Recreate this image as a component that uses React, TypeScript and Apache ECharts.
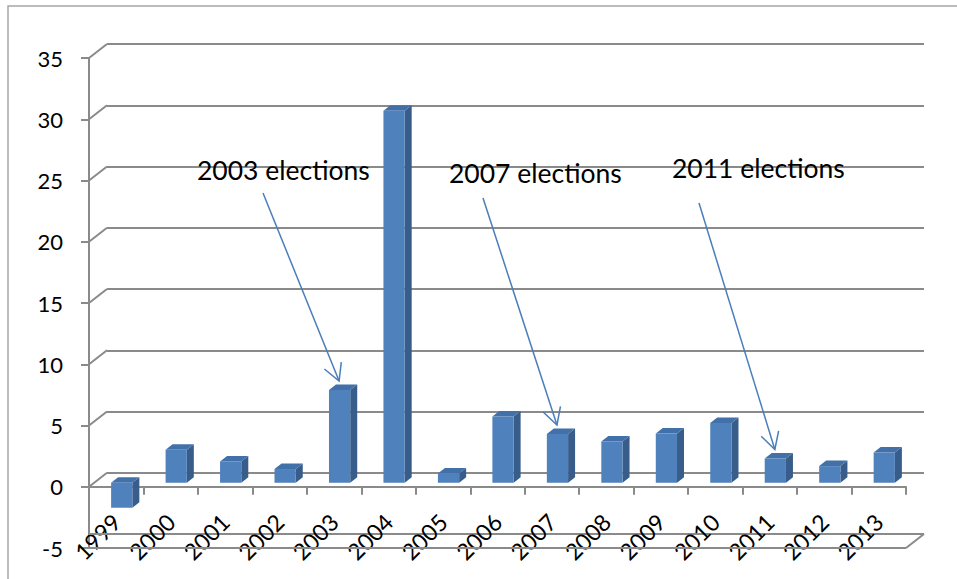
import React, { useEffect, useRef } from "react";
import * as echarts from "echarts";

const years = ["1999", "2000", "2001", "2002", "2003", "2004", "2005", "2006", "2007", "2008", "2009", "2010", "2011", "2012", "2013"];
const growth = [-2.04, 2.69, 1.74, 1.12, 7.57, 30.37, 0.76, 5.41, 3.98, 3.37, 4.02, 4.87, 1.98, 1.36, 2.47];
const yTicks = [-5, 0, 5, 10, 15, 20, 25, 30, 35];
const annotationLabels = ["2003 elections", "2007 elections", "2011 elections"];
const annotationYears = ["2003", "2007", "2011"];

const W = 957;
const H = 579;
const FONT = "Lato, 'Noto Sans', sans-serif";
const GRID_COLOR = "#8a8a8a";
const DX = 18; // depth offset of the back wall
const DY = 14;
const BAR_DX = 5.5; // bar position inside depth
const BAR_DY = 4;
const BAR_DEPTH_X = 7;
const BAR_DEPTH_Y = 5.5;

// annotation layout (text position and arrow start)
const annLayout = [
  { tx: 197, ty: 170, sx: 263, sy: 193 },
  { tx: 449, ty: 173, sx: 483, sy: 198 },
  { tx: 672, ty: 168, sx: 699, sy: 203 },
];

export default function App() {
  const ref = useRef<HTMLDivElement>(null);

  useEffect(() => {
    if (!ref.current) return;
    const chart = echarts.init(ref.current, undefined, { renderer: "svg" });
    const front: any = { left: 89, right: W - 906, top: 58, bottom: H - 548, containLabel: false, outerBoundsMode: "none" };
    const back: any = {
      left: front.left + DX,
      right: front.right - DX,
      top: front.top - DY,
      bottom: front.bottom + DY,
      containLabel: false,
      outerBoundsMode: "none",
    };
    // the zero level of the front plane: -5..35 mapped on 490px, so 0 is 5/40 above the bottom
    const zeroFromBottom = front.bottom + ((H - front.top - front.bottom) * 5) / 40;
    const labelGrid: any = {
      left: front.left,
      right: front.right,
      top: front.top,
      bottom: zeroFromBottom,
      containLabel: false,
      outerBoundsMode: "none",
    };

    const option: any = {
      animation: false,
      backgroundColor: "#ffffff",
      grid: [front, back, labelGrid],
      xAxis: [
        {
          type: "category",
          gridIndex: 0,
          data: years,
          boundaryGap: true,
          axisLine: { show: true, onZero: true, lineStyle: { color: GRID_COLOR, width: 2 } },
          axisTick: { show: true, length: 8, alignWithLabel: false, lineStyle: { color: GRID_COLOR, width: 2 } },
          axisLabel: { show: false },
          splitLine: { show: false },
          z: 3,
        },
        { type: "category", gridIndex: 1, data: years, show: false },
        {
          type: "category",
          gridIndex: 2,
          data: years,
          boundaryGap: true,
          axisLine: { show: false, onZero: false },
          axisTick: { show: false },
          axisLabel: { rotate: 45, margin: 31, fontSize: 23, color: "#000", fontFamily: FONT, interval: 0 },
          splitLine: { show: false },
        },
      ],
      yAxis: [
        {
          type: "value",
          gridIndex: 0,
          min: -5,
          max: 35,
          interval: 5,
          axisLine: { show: true, lineStyle: { color: GRID_COLOR, width: 2 } },
          axisTick: { show: true, length: 8, lineStyle: { color: GRID_COLOR, width: 2 } },
          axisLabel: { fontSize: 22, margin: 26, color: "#000", fontFamily: FONT },
          splitLine: { show: false },
        },
        {
          type: "value",
          gridIndex: 1,
          min: -5,
          max: 35,
          interval: 5,
          axisLine: { show: false },
          axisTick: { show: false },
          axisLabel: { show: false },
          splitLine: { show: true, lineStyle: { color: GRID_COLOR, width: 2 } },
        },
        { type: "value", gridIndex: 2, show: false, min: 0, max: 1 },
      ],
      series: [
        {
          type: "custom",
          name: "walls",
          xAxisIndex: 0,
          yAxisIndex: 0,
          data: yTicks.map((v) => [0, v]),
          encode: { x: 0, y: 1 },
          silent: true,
          z: 1,
          renderItem: (params: any, api: any) => {
            const cs = params.coordSys;
            const v = api.value(1);
            const y = api.coord([0, v])[1];
            const style = { stroke: GRID_COLOR, lineWidth: 2, fill: "none" };
            const children: any[] = [];
            if (v === yTicks[0]) {
              children.push({ type: "line", shape: { x1: cs.x, y1: y - DY, x2: cs.x + DX, y2: y - DY }, style });
              children.push({ type: "line", shape: { x1: cs.x, y1: y, x2: cs.x + cs.width, y2: y }, style });
              children.push({
                type: "line",
                shape: { x1: cs.x + cs.width, y1: y, x2: cs.x + cs.width + DX, y2: y - DY },
                style,
              });
            } else {
              children.push({ type: "line", shape: { x1: cs.x, y1: y, x2: cs.x + DX, y2: y - DY }, style });
            }
            return { type: "group", children };
          },
        },
        {
          type: "custom",
          name: "growth",
          xAxisIndex: 0,
          yAxisIndex: 0,
          data: growth.map((v, i) => [i, v]),
          encode: { x: 0, y: 1 },
          z: 5,
          renderItem: (params: any, api: any) => {
            const i = api.value(0);
            const v = api.value(1);
            const top = api.coord([i, v]);
            const base = api.coord([i, 0]);
            const bw = api.size([1, 0])[0] * 0.39;
            const xl = top[0] - bw / 2 + BAR_DX;
            const xr = xl + bw;
            const yt = Math.min(top[1], base[1]) - BAR_DY;
            const yb = Math.max(top[1], base[1]) - BAR_DY;
            return {
              type: "group",
              children: [
                {
                  type: "polygon",
                  shape: {
                    points: [
                      [xr, yt],
                      [xr + BAR_DEPTH_X, yt - BAR_DEPTH_Y],
                      [xr + BAR_DEPTH_X, yb - BAR_DEPTH_Y],
                      [xr, yb],
                    ],
                  },
                  style: { fill: "#385d8a" },
                },
                {
                  type: "polygon",
                  shape: {
                    points: [
                      [xl, yt],
                      [xr, yt],
                      [xr + BAR_DEPTH_X, yt - BAR_DEPTH_Y],
                      [xl + BAR_DEPTH_X, yt - BAR_DEPTH_Y],
                    ],
                  },
                  style: { fill: "#4270a8" },
                },
                {
                  type: "rect",
                  shape: { x: xl, y: yt, width: bw, height: yb - yt },
                  style: { fill: "#4f81bd" },
                },
              ],
            };
          },
        },
      ],
    };
    chart.setOption(option);

    // annotations, arrow tips anchored to the bars they point at
    const graphics: any[] = [
      {
        type: "rect",
        shape: { x: 8, y: 6, width: W + 20, height: H + 20 },
        style: { fill: "none", stroke: "#a6a6a6", lineWidth: 1.5 },
        silent: true,
        z: 0,
      },
    ];
    annotationLabels.forEach((label, k) => {
      const idx = years.indexOf(annotationYears[k]);
      const p = chart.convertToPixel({ xAxisIndex: 0, yAxisIndex: 0 }, [idx, growth[idx]]) as number[];
      const tipX = p[0] + 5;
      const tipY = p[1] - 13;
      const L = annLayout[k];
      const ang = Math.atan2(L.sy - tipY, L.sx - tipX);
      const headLen = 19;
      const spread = 0.5;
      const color = "#4a7ebb";
      const lstyle = { stroke: color, lineWidth: 1.5 };
      graphics.push({
        type: "text",
        x: L.tx,
        y: L.ty,
        style: { text: label, fontSize: 26.5, fontFamily: FONT, fill: "#000", textAlign: "left", textVerticalAlign: "middle" },
        z: 10,
      });
      graphics.push({ type: "line", shape: { x1: L.sx, y1: L.sy, x2: tipX, y2: tipY }, style: lstyle, z: 10 });
      graphics.push({
        type: "polyline",
        shape: {
          points: [
            [tipX + headLen * Math.cos(ang - spread), tipY + headLen * Math.sin(ang - spread)],
            [tipX, tipY],
            [tipX + headLen * Math.cos(ang + spread), tipY + headLen * Math.sin(ang + spread)],
          ],
        },
        style: { ...lstyle, fill: "none" },
        z: 10,
      });
    });
    chart.setOption({ graphic: graphics });

    return () => chart.dispose();
  }, []);

  return (
    <div
      ref={ref}
      style={{ position: "fixed", left: 0, top: 0, width: W, height: H, background: "#fff" }}
    />
  );
}
